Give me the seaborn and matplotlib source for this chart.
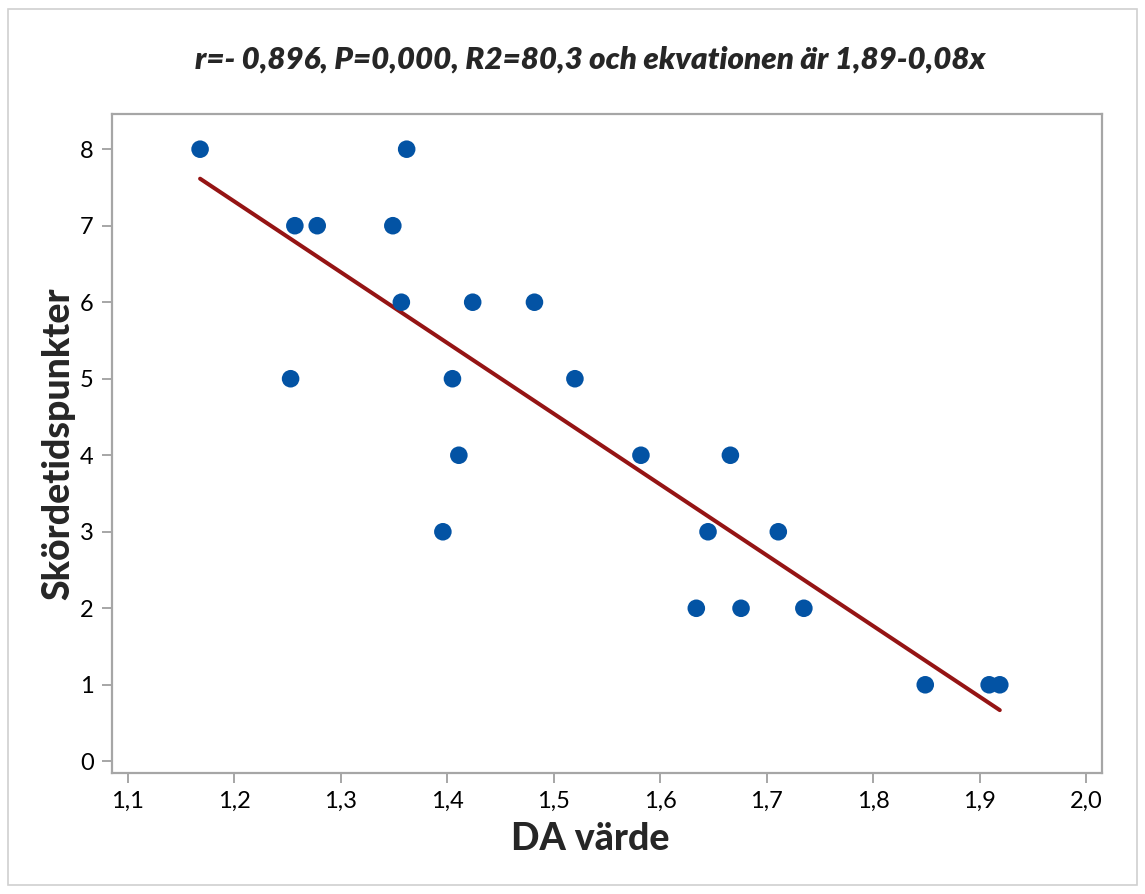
import numpy as np
import pandas as pd
import matplotlib
matplotlib.use("Agg")
import matplotlib.pyplot as plt
from matplotlib.patches import Rectangle
import seaborn as sns

da_value = [1.168, 1.362, 1.257, 1.278, 1.349, 1.357, 1.424, 1.482, 1.253, 1.405,
            1.520, 1.411, 1.582, 1.666, 1.396, 1.645, 1.711, 1.634, 1.676, 1.735,
            1.849, 1.909, 1.919]
harvest = [8, 8, 7, 7, 7, 6, 6, 6, 5, 5,
           5, 4, 4, 4, 3, 3, 3, 2, 2, 2,
           1, 1, 1]
x_ticks = [1.1, 1.2, 1.3, 1.4, 1.5, 1.6, 1.7, 1.8, 1.9, 2.0]
x_tick_labels = ["1,1", "1,2", "1,3", "1,4", "1,5", "1,6", "1,7", "1,8", "1,9", "2,0"]
y_ticks = [0, 1, 2, 3, 4, 5, 6, 7, 8]
title = "r=- 0,896, P=0,000, R2=80,3 och ekvationen är 1,89-0,08x"

df = pd.DataFrame({"DA värde": da_value, "Skördetidspunkter": harvest})

sns.set_style("white")
plt.rcParams["font.family"] = ["Lato", "DejaVu Sans"]

fig = plt.figure(figsize=(11.45, 8.94), dpi=100)
ax = fig.add_axes([111.7 / 1145, 1 - 772.7 / 894, (1101.7 - 111.7) / 1145, (772.7 - 114) / 894])

sns.regplot(data=df, x="DA värde", y="Skördetidspunkter", ax=ax, ci=None,
            scatter_kws=dict(s=160, color="#0353A4", edgecolor="none", alpha=1, zorder=3),
            line_kws=dict(color="#951414", linewidth=2.9, zorder=2))

ax.set_xlim(1.085, 2.0147)
ax.set_ylim(-0.149, 8.46)
ax.set_xticks(x_ticks)
ax.set_xticklabels(x_tick_labels)
ax.set_yticks(y_ticks)

for sp in ax.spines.values():
    sp.set_color("#A6A6A6")
    sp.set_linewidth(1.6)
ax.tick_params(axis="both", which="major", direction="out", length=7, width=1.4,
               color="#A6A6A6", labelsize=17, labelcolor="black", pad=6,
               bottom=True, left=True)

ax.set_xlabel("DA värde", fontsize=27, fontweight="black", labelpad=8)
ax.xaxis.set_label_coords((590 - 111.7) / (1101.7 - 111.7), -0.075)
ax.set_ylabel("Skördetidspunkter", fontsize=27, fontweight="black", labelpad=3)

fig.text(590 / 1145, 1 - 60 / 894, title, ha="center", va="center",
         fontsize=22.5, fontweight="heavy", fontstyle="italic")

fig.patches.append(Rectangle((8 / 1145, 1 - 885 / 894), (1137 - 8) / 1145, (885 - 9) / 894,
                             transform=fig.transFigure, fill=False,
                             edgecolor="#D0D0D0", linewidth=1.2))

fig.savefig("out.png", dpi=100, facecolor="white")
